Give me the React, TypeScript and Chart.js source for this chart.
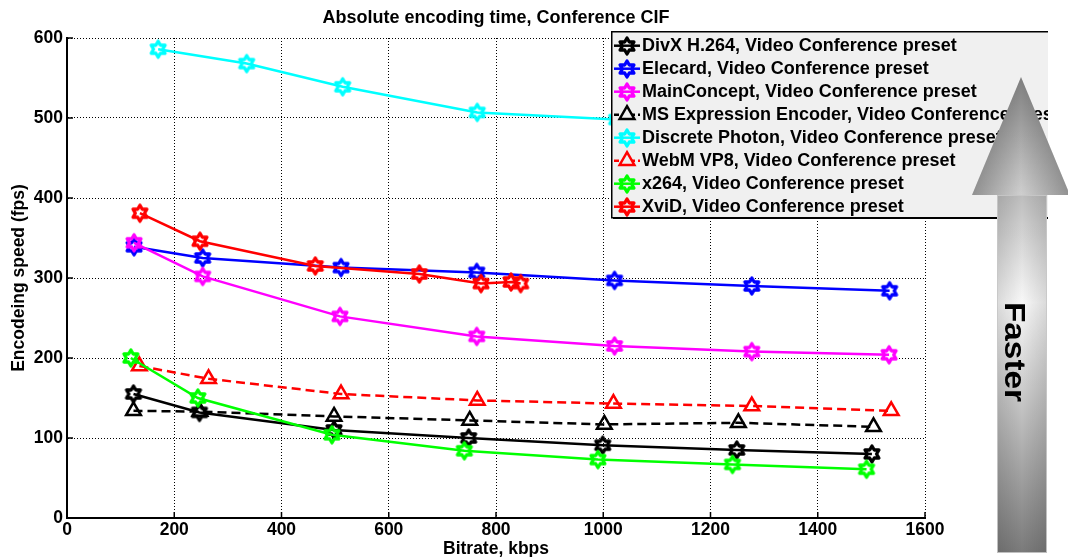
import React, { useEffect, useRef } from 'react';
import { Chart, registerables } from 'chart.js';

Chart.register(...registerables);

const FONT = '"Liberation Sans", Arial, Helvetica, sans-serif';

const titleText = 'Absolute encoding time, Conference CIF';
const xTitle = 'Bitrate, kbps';
const yTitle = 'Encodeing speed (fps)';
const arrowLabel = 'Faster';

const xTickStep = 200;
const yTickStep = 100;
const xMin = 0;
const xMax = 1600;
const yMin = 0;
const yMax = 600;

const seriesNames = [
  'DivX H.264, Video Conference preset',
  'Elecard, Video Conference preset',
  'MainConcept, Video Conference preset',
  'MS Expression Encoder, Video Conference preset',
  'Discrete Photon, Video Conference preset',
  'WebM VP8, Video Conference preset',
  'x264, Video Conference preset',
  'XviD, Video Conference preset',
];

const divxX = [124, 247, 498, 749, 999, 1249, 1501];
const divxY = [155, 132, 110, 100, 91, 85, 80];

const elecardX = [125, 253, 511, 764, 1021, 1277, 1534];
const elecardY = [339, 325, 313, 307, 297, 290, 284];

const mainConceptX = [125, 253, 509, 764, 1021, 1277, 1533];
const mainConceptY = [344, 302, 252, 227, 215, 208, 204];

const msExprX = [124, 248, 498, 751, 1002, 1252, 1504];
const msExprY = [134, 133, 127, 122, 117, 119, 114];

const photonX = [170, 335, 514, 765, 1025, 1280, 1535];
const photonY = [586, 568, 539, 507, 498, 493, 489];

const webmX = [135, 264, 511, 765, 1019, 1277, 1537];
const webmY = [190, 174, 155, 147, 143, 140, 134];

const x264X = [119, 244, 494, 741, 990, 1241, 1491];
const x264Y = [200, 150, 104, 84, 73, 67, 61];

const xvidX = [136, 248, 463, 657, 772, 828, 846];
const xvidY = [381, 346, 315, 305, 293, 295, 293];

const seriesX = [divxX, elecardX, mainConceptX, msExprX, photonX, webmX, x264X, xvidX];
const seriesY = [divxY, elecardY, mainConceptY, msExprY, photonY, webmY, x264Y, xvidY];
const seriesColors = ['#000000', '#0000ff', '#ff00ff', '#000000', '#00ffff', '#ff0000', '#00ff00', '#ff0000'];
const seriesDashed = [false, false, false, true, false, true, false, false];
const seriesMarker = ['hex', 'hex', 'hex', 'tri', 'hex', 'tri', 'hex', 'hex'];

const STAR_R = 8;
const STAR_LW = 3.3;
const TRI_R = 8.5;
const LINE_W = 2.5;

let hexImages: HTMLCanvasElement[] = [];

function makeHexagram(color: string): HTMLCanvasElement {
  const size = 24;
  const c = document.createElement('canvas');
  c.width = size;
  c.height = size;
  const ctx = c.getContext('2d')!;
  ctx.translate(size / 2, size / 2);
  ctx.beginPath();
  for (let k = 0; k < 12; k++) {
    const a = -Math.PI / 2 + (k * Math.PI) / 6;
    const r = k % 2 === 0 ? STAR_R : STAR_R / Math.sqrt(3);
    const px = Math.cos(a) * r;
    const py = Math.sin(a) * r;
    if (k === 0) ctx.moveTo(px, py);
    else ctx.lineTo(px, py);
  }
  ctx.closePath();
  ctx.lineWidth = STAR_LW;
  ctx.lineJoin = 'round';
  ctx.strokeStyle = color;
  ctx.stroke();
  return c;
}

function drawTriangle(ctx: CanvasRenderingContext2D, x: number, y: number, r: number) {
  let rad = 0;
  ctx.beginPath();
  ctx.moveTo(x + Math.sin(rad) * r, y - Math.cos(rad) * r);
  rad += (2 * Math.PI) / 3;
  ctx.lineTo(x + Math.sin(rad) * r, y - Math.cos(rad) * r);
  rad += (2 * Math.PI) / 3;
  ctx.lineTo(x + Math.sin(rad) * r, y - Math.cos(rad) * r);
  ctx.closePath();
}

const overlayPlugin = {
  id: 'overlay',
  beforeDatasetsDraw(chart: any) {
    const ctx: CanvasRenderingContext2D = chart.ctx;
    const xs = chart.scales.x;
    const ys = chart.scales.y;
    const area = chart.chartArea;
    ctx.save();
    ctx.strokeStyle = '#000';
    ctx.lineWidth = 1.5;
    ctx.setLineDash([]);
    for (let v = xMin; v <= xMax; v += xTickStep) {
      const px = xs.getPixelForValue(v);
      ctx.beginPath();
      ctx.moveTo(px, area.bottom);
      ctx.lineTo(px, area.bottom - 6);
      ctx.stroke();
    }
    for (let v = yMin; v <= yMax; v += yTickStep) {
      const py = ys.getPixelForValue(v);
      ctx.beginPath();
      ctx.moveTo(area.left, py);
      ctx.lineTo(area.left + 6, py);
      ctx.stroke();
    }
    ctx.restore();
  },
  afterDraw(chart: any) {
    const ctx: CanvasRenderingContext2D = chart.ctx;
    const lx = 611;
    const ly = 31;
    const lw = 437;
    const lh = 186;
    ctx.save();
    ctx.beginPath();
    ctx.rect(0, 0, lx + lw, 557);
    ctx.clip();
    ctx.fillStyle = '#f0f0f0';
    ctx.fillRect(lx, ly, lw + 20, lh);
    ctx.strokeStyle = '#000';
    ctx.lineWidth = 1.5;
    ctx.setLineDash([]);
    ctx.strokeRect(lx + 0.75, ly + 0.75, lw + 20, lh);
    ctx.fillStyle = '#000';
    ctx.fillRect(lx + 2, ly + lh, lw + 20, 2);
    for (let i = 0; i < seriesNames.length; i++) {
      const y = 45.7 + 23 * i;
      ctx.strokeStyle = seriesColors[i];
      ctx.lineWidth = LINE_W;
      ctx.setLineDash(seriesDashed[i] ? [5, 3] : []);
      ctx.beginPath();
      ctx.moveTo(614, y);
      ctx.lineTo(640, y);
      ctx.stroke();
      ctx.setLineDash([]);
      if (seriesMarker[i] === 'hex') {
        const im = hexImages[i];
        if (im) ctx.drawImage(im, 627 - im.width / 2, Math.round(y) - im.height / 2);
      } else {
        ctx.fillStyle = '#f0f0f0';
        drawTriangle(ctx, 627, y, TRI_R);
        ctx.fill();
        ctx.lineWidth = 2.5;
        ctx.strokeStyle = seriesColors[i];
        ctx.stroke();
      }
      ctx.fillStyle = '#000';
      ctx.font = `bold 18px ${FONT}`;
      ctx.textAlign = 'left';
      ctx.textBaseline = 'middle';
      ctx.fillText(seriesNames[i], 642, y + 0.5);
    }
    ctx.restore();

    const tipX = 1021;
    const tipY = 77;
    const baseY = 195;
    const headL = 972;
    const headR = 1070;
    const shL = 997;
    const shR = 1047;
    const shB = 553;
    ctx.save();
    ctx.beginPath();
    ctx.moveTo(tipX, tipY);
    ctx.lineTo(headR, baseY);
    ctx.lineTo(headL, baseY);
    ctx.closePath();
    const hg = ctx.createLinearGradient(0, tipY, 0, baseY);
    hg.addColorStop(0, '#7e7e7e');
    hg.addColorStop(1, '#cfcfcf');
    ctx.fillStyle = hg;
    ctx.fill();
    const hh = ctx.createLinearGradient(headL, 0, headR, 0);
    hh.addColorStop(0, 'rgba(0,0,0,0.30)');
    hh.addColorStop(0.5, 'rgba(0,0,0,0)');
    hh.addColorStop(1, 'rgba(0,0,0,0.30)');
    ctx.fillStyle = hh;
    ctx.fill();
    ctx.beginPath();
    ctx.rect(shL, baseY, shR - shL, shB - baseY);
    const sg = ctx.createLinearGradient(0, baseY, 0, shB);
    sg.addColorStop(0, '#bdbdbd');
    sg.addColorStop(0.3, '#f8f8f8');
    sg.addColorStop(1, '#7a7a7a');
    ctx.fillStyle = sg;
    ctx.fill();
    const sh = ctx.createLinearGradient(shL, 0, shR, 0);
    sh.addColorStop(0, 'rgba(0,0,0,0.12)');
    sh.addColorStop(0.5, 'rgba(0,0,0,0)');
    sh.addColorStop(1, 'rgba(0,0,0,0.12)');
    ctx.fillStyle = sh;
    ctx.fill();
    ctx.strokeStyle = 'rgba(200,200,200,0.9)';
    ctx.lineWidth = 1;
    ctx.strokeRect(shL + 0.5, baseY + 0.5, shR - shL - 1, shB - baseY - 1);
    ctx.translate(1013, 352);
    ctx.rotate(Math.PI / 2);
    ctx.scale(1.15, 1);
    ctx.font = `bold 29px ${FONT}`;
    ctx.fillStyle = '#000';
    ctx.textAlign = 'center';
    ctx.textBaseline = 'middle';
    ctx.fillText(arrowLabel, 0, 0);
    ctx.restore();
  },
};

export default function App() {
  const ref = useRef<HTMLCanvasElement | null>(null);
  useEffect(() => {
    if (!ref.current) return;
    hexImages = seriesColors.map((c) => makeHexagram(c));
    const datasets = seriesNames.map((name, i) => ({
      label: name,
      data: seriesX[i].map((x, j) => ({ x, y: seriesY[i][j] })),
      borderColor: seriesColors[i],
      backgroundColor: seriesColors[i],
      borderWidth: LINE_W,
      borderDash: seriesDashed[i] ? [9, 5] : [],
      pointStyle: seriesMarker[i] === 'hex' ? hexImages[i] : 'triangle',
      pointRadius: seriesMarker[i] === 'hex' ? STAR_R : TRI_R,
      pointBorderWidth: 2.5,
      pointBorderColor: seriesColors[i],
      pointBackgroundColor: 'rgba(255,255,255,0)',
      tension: 0,
      fill: false,
      order: -i,
    }));
    const chart: any = new Chart(ref.current, {
      type: 'line',
      data: { datasets },
      options: {
        responsive: false,
        devicePixelRatio: 1,
        animation: false,
        layout: { padding: { left: 0, right: 143, top: 0, bottom: 0 } },
        plugins: {
          legend: { display: false },
          tooltip: { enabled: false },
          title: {
            display: true,
            text: titleText,
            color: '#000',
            fullSize: false,
            font: { family: FONT, size: 18, weight: 'bold' },
            padding: { top: 7.5, bottom: 8.9 },
          },
        },
        scales: {
          x: {
            type: 'linear',
            min: xMin,
            max: xMax,
            afterFit: (s: any) => {
              s.height = 39;
            },
            ticks: {
              stepSize: xTickStep,
              color: '#000',
              padding: 2,
              maxRotation: 0,
              font: { family: FONT, size: 17.5, weight: 'bold' },
              callback: (v: any) => String(v),
            },
            grid: { color: '#000', lineWidth: 1, drawTicks: false },
            border: { display: true, color: '#000', width: 2, dash: [1, 2] },
            title: {
              display: true,
              text: xTitle,
              color: '#000',
              font: { family: FONT, size: 17.5, weight: 'bold' },
              padding: { top: 0, bottom: -3 },
            },
          },
          y: {
            type: 'linear',
            min: yMin,
            max: yMax,
            afterFit: (s: any) => {
              s.width = 67;
            },
            ticks: {
              stepSize: yTickStep,
              color: '#000',
              padding: 4,
              font: { family: FONT, size: 17.5, weight: 'bold' },
              callback: (v: any) => String(v),
            },
            grid: { color: '#000', lineWidth: 1, drawTicks: false },
            border: { display: true, color: '#000', width: 2, dash: [1, 2] },
            title: {
              display: true,
              text: yTitle,
              color: '#000',
              font: { family: FONT, size: 17.5, weight: 'bold' },
              padding: { top: 8.3, bottom: 0 },
            },
          },
        },
      },
      plugins: [overlayPlugin],
    });
    return () => chart.destroy();
  }, []);
  return (
    <div style={{ position: 'absolute', left: 0, top: 0, width: 1068, height: 557, background: '#fff' }}>
      <canvas ref={ref} width={1068} height={557} style={{ display: 'block' }} />
    </div>
  );
}
